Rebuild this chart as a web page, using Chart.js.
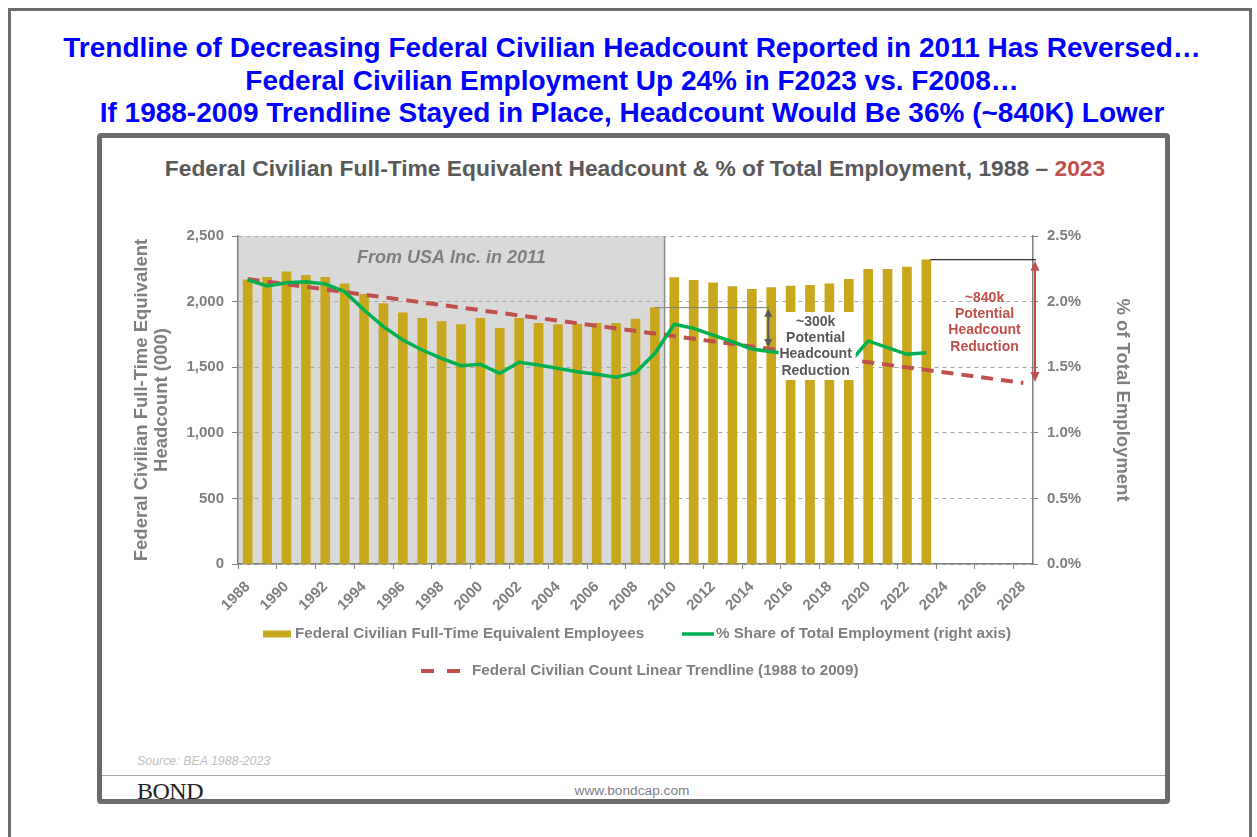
<!DOCTYPE html>
<html>
<head>
<meta charset="utf-8">
<script src="https://cdn.jsdelivr.net/npm/chart.js@4.4.1/dist/chart.umd.min.js"></script>
<style>
  body { margin: 0; width: 1257px; height: 837px; background: #fff; position: relative; overflow: hidden;
         font-family: "Liberation Sans", Arial, sans-serif; }
  #frame { position: absolute; left: 8px; top: 8px; width: 1244px; height: 900px; border: 3px solid #6d6d6d; border-bottom: none; box-sizing: border-box; }
  #headline { position: absolute; left: 0; width: 1264px; top: 32px; text-align: center; color: #0000ff;
              font-weight: bold; font-size: 28px; line-height: 32.5px; white-space: nowrap; }
  #panel { position: absolute; left: 97px; top: 133px; width: 1073px; height: 671px; border: 5px solid #6b6b6b;
           border-radius: 4px; box-sizing: border-box; }
  #chartTitle { position: absolute; left: 0; width: 1270px; top: 155px; text-align: center; color: #595959;
                font-weight: bold; font-size: 22.8px; line-height: 26px; white-space: nowrap; }
  #chartTitle span { color: #c0504d; }
  #chart { position: absolute; left: 100px; top: 185px; }
  #rule { position: absolute; left: 102px; width: 1063px; top: 775px; height: 0; border-top: 1px solid #a6a6a6; }
  #source { position: absolute; left: 137px; top: 754px; font-size: 12.4px; font-style: italic; color: #bfbfbf; }
  #bond { position: absolute; left: 137px; top: 777px; font-family: "Liberation Serif", "Times New Roman", serif;
          font-size: 24px; line-height: 28px; color: #222; letter-spacing: -0.5px; }
  #site { position: absolute; left: 0; width: 1264px; top: 783px; text-align: center; font-size: 13.7px; color: #7f7f7f; }
</style>
</head>
<body>
<div id="frame"></div>
<div id="headline">
  Trendline of Decreasing Federal Civilian Headcount Reported in 2011 Has Reversed…<br>
  Federal Civilian Employment Up 24% in F2023 vs. F2008…<br>
  If 1988-2009 Trendline Stayed in Place, Headcount Would Be 36% (~840K) Lower
</div>
<div id="panel"></div>
<div id="chartTitle">Federal Civilian Full-Time Equivalent Headcount &amp; % of Total Employment, 1988 – <span>2023</span></div>
<canvas id="chart" width="1065" height="505"></canvas>
<div id="rule"></div>
<div id="source">Source: BEA 1988-2023</div>
<div id="bond">BOND</div>
<div id="site">www.bondcap.com</div>

<script>
// Categories (fiscal years shown on the axis)
const years = ['1988','1989','1990','1991','1992','1993','1994','1995','1996','1997','1998','1999',
               '2000','2001','2002','2003','2004','2005','2006','2007','2008','2009','2010','2011',
               '2012','2013','2014','2015','2016','2017','2018','2019','2020','2021','2022','2023',
               '2024','2025','2026','2027','2028'];

// Federal civilian FTE headcount (000), 1988-2023
const headcount = [2165, 2185, 2226, 2200, 2185, 2136, 2056, 1984, 1915, 1873, 1847, 1824,
                   1873, 1796, 1873, 1835, 1824, 1829, 1835, 1835, 1867, 1954, 2183, 2162,
                   2144, 2114, 2094, 2106, 2119, 2124, 2136, 2170, 2246, 2246, 2264, 2319];

// % share of total employment, 1988-2023
const shareOfTotal = [2.165, 2.119, 2.144, 2.152, 2.134, 2.076, 1.936, 1.809, 1.707, 1.631, 1.568, 1.512,
                      1.522, 1.453, 1.537, 1.517, 1.491, 1.466, 1.446, 1.423, 1.458, 1.606, 1.827, 1.796,
                      1.745, 1.694, 1.639, 1.618, 1.600, 1.580, 1.555, 1.530, 1.700, 1.649, 1.598, 1.611];

// Linear trendline (1988 to 2009 fit), end points at 1988 and 2028
const trendStart = 2172;
const trendEnd = 1380;

const leftTicks = [0, 500, 1000, 1500, 2000, 2500];
const rightTicks = [0, 0.5, 1.0, 1.5, 2.0, 2.5];

const gold = '#c9a71c';
const green = '#00b050';
const red = '#c0504d';
const axisGray = '#7f7f7f';
const canvasLeft = 100, canvasTop = 185;
const fontFamily = '"Liberation Sans", Arial, sans-serif';

const pad = (arr) => arr.concat(new Array(years.length - arr.length).fill(null));
const trendData = years.map((y, i) => i === 0 ? trendStart : (i === years.length - 1 ? trendEnd : null));

function arrowHead(ctx, x, y, dir, len, half) {
    ctx.beginPath();
    ctx.moveTo(x, y);
    ctx.lineTo(x - half, y + dir * len);
    ctx.lineTo(x + half, y + dir * len);
    ctx.closePath();
    ctx.fill();
}

// gray "From USA Inc." panel behind the 1988-2009 part
const shadePlugin = {
    id: 'shade',
    beforeDraw(chart) {
        const { ctx, chartArea, scales } = chart;
        const step = scales.x.getPixelForValue(1) - scales.x.getPixelForValue(0);
        const right = scales.x.getPixelForValue(years.indexOf('2009')) + step / 2;
        ctx.save();
        ctx.fillStyle = '#d9d9d9';
        ctx.fillRect(chartArea.left, chartArea.top, right - chartArea.left, chartArea.bottom - chartArea.top);
        ctx.strokeStyle = '#8c8c8c';
        ctx.lineWidth = 1.5;
        ctx.beginPath();
        ctx.moveTo(right, chartArea.top);
        ctx.lineTo(right, chartArea.bottom);
        ctx.stroke();
        ctx.fillStyle = '#7f7f7f';
        ctx.font = 'italic bold 18px ' + fontFamily;
        ctx.textAlign = 'center';
        ctx.textBaseline = 'middle';
        ctx.fillText('From USA Inc. in 2011', (chartArea.left + right) / 2, chartArea.top + 22);
        ctx.restore();
    }
};

// arrows and call-outs
const notesPlugin = {
    id: 'notes',
    afterDatasetsDraw(chart) {
        const { ctx, chartArea, scales } = chart;
        const x = scales.x, y = scales.y;
        const top = chartArea.top;
        ctx.save();

        // ~300k call-out
        const y2009 = y.getPixelForValue(headcount[years.indexOf('2009')]);
        const ax = x.getPixelForValue(years.indexOf('2015')) - 3;
        ctx.strokeStyle = '#7f7f7f';
        ctx.lineWidth = 1;
        ctx.beginPath();
        ctx.moveTo(x.getPixelForValue(years.indexOf('2009')), y2009);
        ctx.lineTo(ax + 2, y2009);
        ctx.stroke();
        const yLow = y.getPixelForValue(1646);
        ctx.strokeStyle = '#595959';
        ctx.fillStyle = '#595959';
        ctx.lineWidth = 2;
        ctx.beginPath();
        ctx.moveTo(ax, y2009 + 6);
        ctx.lineTo(ax, yLow - 6);
        ctx.stroke();
        arrowHead(ctx, ax, y2009 + 1, 1, 8, 4);
        arrowHead(ctx, ax, yLow - 1, -1, 8, 4);

        const bx = x.getPixelForValue(years.indexOf('2016')) - 12;
        ctx.fillStyle = '#ffffff';
        ctx.fillRect(bx, top + 76, 77, 68);
        ctx.fillStyle = '#595959';
        ctx.font = 'bold 14px ' + fontFamily;
        ctx.textAlign = 'center';
        ctx.textBaseline = 'middle';
        const cx = bx + 37;
        ['~300k', 'Potential', 'Headcount', 'Reduction'].forEach((t, i) => {
            ctx.fillText(t, cx, top + 86 + i * 16.3);
        });

        // ~840k call-out
        const y2023 = y.getPixelForValue(headcount[years.indexOf('2023')]);
        const rx = chartArea.right + 2;
        ctx.strokeStyle = '#000000';
        ctx.lineWidth = 1;
        ctx.beginPath();
        ctx.moveTo(x.getPixelForValue(years.indexOf('2023')) + 4, y2023);
        ctx.lineTo(rx + 1, y2023);
        ctx.stroke();
        const yEnd = y.getPixelForValue(trendEnd);
        ctx.strokeStyle = red;
        ctx.fillStyle = red;
        ctx.lineWidth = 2;
        ctx.beginPath();
        ctx.moveTo(rx, y2023 + 8);
        ctx.lineTo(rx, yEnd - 8);
        ctx.stroke();
        arrowHead(ctx, rx, y2023 + 1, 1, 10, 4.5);
        arrowHead(ctx, rx, yEnd - 1, -1, 10, 4.5);
        ctx.font = 'bold 14px ' + fontFamily;
        const tx = x.getPixelForValue(years.indexOf('2026'));
        ['~840k', 'Potential', 'Headcount', 'Reduction'].forEach((t, i) => {
            ctx.fillText(t, tx, top + 62 + i * 16.3);
        });
        ctx.restore();
    }
};

// legend laid out like the original (two rows)
const legendPlugin = {
    id: 'customLegend',
    afterDraw(chart) {
        const ctx = chart.ctx;
        const ds = chart.data.datasets;
        ctx.save();
        ctx.font = 'bold 15.2px ' + fontFamily;
        ctx.fillStyle = axisGray;
        ctx.textBaseline = 'middle';
        ctx.textAlign = 'left';
        const r1 = 634 - canvasTop, r2 = 671 - canvasTop;

        ctx.fillStyle = ds[0].backgroundColor;
        ctx.fillRect(263 - canvasLeft, r1 - 3.5, 28, 7);
        ctx.fillStyle = axisGray;
        ctx.fillText(ds[0].label, 295 - canvasLeft, r1);

        ctx.strokeStyle = ds[1].borderColor;
        ctx.lineWidth = 3.5;
        ctx.beginPath();
        ctx.moveTo(682 - canvasLeft, r1);
        ctx.lineTo(714 - canvasLeft, r1);
        ctx.stroke();
        ctx.fillText(ds[1].label, 716 - canvasLeft, r1);

        ctx.strokeStyle = ds[2].borderColor;
        ctx.lineWidth = 4;
        ctx.beginPath();
        ctx.moveTo(421 - canvasLeft, r2); ctx.lineTo(434 - canvasLeft, r2);
        ctx.moveTo(447 - canvasLeft, r2); ctx.lineTo(460 - canvasLeft, r2);
        ctx.stroke();
        ctx.fillText(ds[2].label, 472 - canvasLeft, r2);
        ctx.restore();
    }
};

const tickFont = { family: fontFamily, size: 15, weight: 'bold' };
const titleFont = { family: fontFamily, size: 18.5, weight: 'bold', lineHeight: 20 / 18.5 };

new Chart(document.getElementById('chart'), {
    data: {
        labels: years,
        datasets: [
            {
                type: 'bar',
                label: 'Federal Civilian Full-Time Equivalent Employees',
                data: pad(headcount),
                backgroundColor: gold,
                barThickness: 9,
                yAxisID: 'y',
                order: 3
            },
            {
                type: 'line',
                label: '% Share of Total Employment (right axis)',
                data: pad(shareOfTotal),
                borderColor: green,
                borderWidth: 3.5,
                pointRadius: 0,
                tension: 0,
                yAxisID: 'y2',
                order: 1
            },
            {
                type: 'line',
                label: 'Federal Civilian Count Linear Trendline (1988 to 2009)',
                data: trendData,
                borderColor: red,
                borderWidth: 4,
                borderDash: [12, 8],
                pointRadius: 0,
                spanGaps: true,
                yAxisID: 'y',
                order: 2
            }
        ]
    },
    options: {
        responsive: false,
        animation: false,
        devicePixelRatio: 1,
        layout: { padding: { top: 51, left: 0, right: 0, bottom: 0 } },
        plugins: {
            legend: { display: false },
            tooltip: { enabled: false }
        },
        scales: {
            x: {
                offset: true,
                grid: {
                    offset: true,
                    drawOnChartArea: false,
                    drawTicks: true,
                    tickLength: 5,
                    color: (c) => c.index % 2 === 0 ? axisGray : 'rgba(0,0,0,0)'
                },
                border: { color: axisGray, width: 1.5 },
                ticks: {
                    autoSkip: false,
                    minRotation: 45,
                    maxRotation: 45,
                    padding: 9,
                    color: axisGray,
                    font: { family: fontFamily, size: 15, weight: 'bold' },
                    callback: function (v, i) { return i % 2 === 0 ? years[i] : ''; }
                },
                afterFit: (s) => { s.height = 126; }
            },
            y: {
                position: 'left',
                min: 0,
                max: 2500,
                afterBuildTicks: (s) => { s.ticks = leftTicks.map(v => ({ value: v })); },
                grid: { color: '#a6a6a6', tickColor: axisGray, tickLength: 6, lineWidth: 1 },
                border: { color: axisGray, dash: [4, 4], width: 1.5 },
                ticks: {
                    padding: 8,
                    color: axisGray,
                    font: tickFont,
                    callback: (v) => v.toLocaleString('en-US')
                },
                title: {
                    display: true,
                    text: ['Federal Civilian Full-Time Equivalent', 'Headcount (000)'],
                    color: axisGray,
                    font: titleFont,
                    padding: { top: 32, bottom: 0 }
                },
                afterFit: (s) => { s.width = 138; }
            },
            y2: {
                position: 'right',
                min: 0,
                max: 2.5,
                afterBuildTicks: (s) => { s.ticks = rightTicks.map(v => ({ value: v })); },
                grid: { drawOnChartArea: false, color: axisGray, tickLength: 5 },
                border: { color: axisGray, width: 1.5 },
                ticks: {
                    padding: 9,
                    color: axisGray,
                    font: tickFont,
                    callback: (v) => v.toFixed(1) + '%'
                },
                title: {
                    display: true,
                    text: '% of Total Employment',
                    color: axisGray,
                    font: titleFont,
                    padding: { top: 33, bottom: 0 }
                },
                afterFit: (s) => { s.width = 132; }
            }
        }
    },
    plugins: [shadePlugin, notesPlugin, legendPlugin]
});
</script>
</body>
</html>
